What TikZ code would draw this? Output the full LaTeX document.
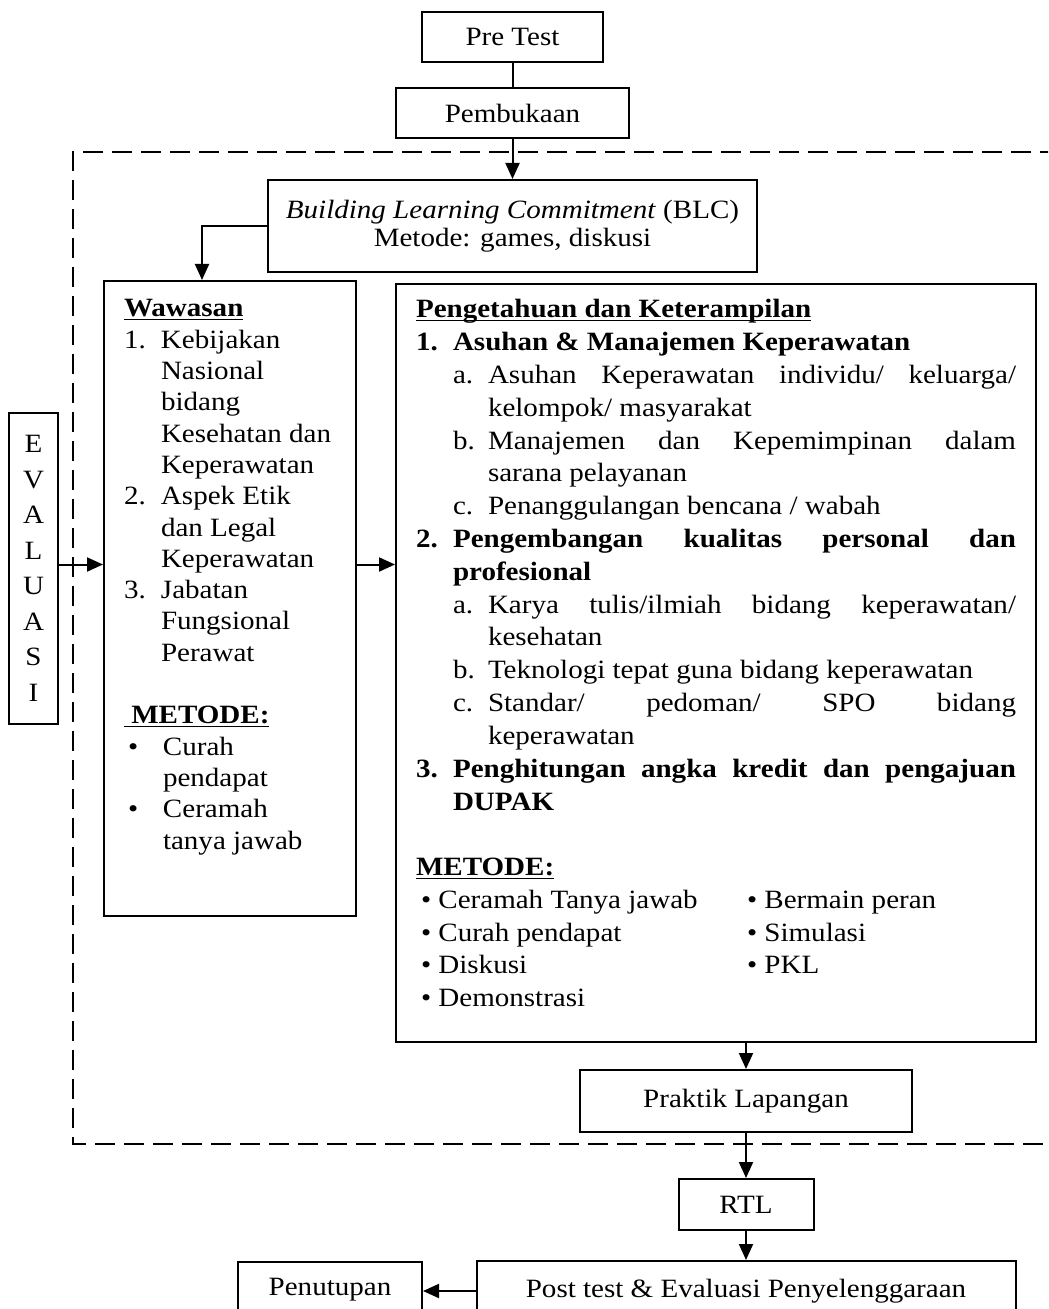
\documentclass[tikz,border=0pt]{standalone}
\usepackage{fontspec}
\setmainfont[FakeStretch=1.1]{Liberation Serif}
\usetikzlibrary{arrows.meta, positioning}

\newcommand{\garisbawah}[1]{\underline{\smash{#1}}}
\newcommand{\butir}[2]{\par\hangindent=18.5pt\hangafter=1\noindent\makebox[18.5pt][l]{#1}#2\par}
\newcommand{\subbutir}[2]{\par\hangindent=36pt\hangafter=1\noindent\hspace*{18.5pt}\makebox[17.5pt][l]{#1}#2\par}
\newcommand{\poin}[1]{\par\hangindent=19.5pt\hangafter=1\noindent\makebox[19.5pt][l]{\hspace{2pt}\textbullet}#1\par}
\newcommand{\duakolom}[2]{\par\noindent\makebox[165.5pt][l]{\hspace{2.5pt}\textbullet\ #1}\textbullet\ #2\par}

\begin{document}
\begin{tikzpicture}[x=0.5pt, y=-0.5pt, font=\fontsize{13.2}{15.65}\selectfont,
        kotak/.style={draw, line width=1pt, inner sep=0pt},
        panah/.style={line width=1pt, -{Triangle[length=8pt, width=7pt]}},
        putus/.style={line width=1.4pt, dash pattern=on 10pt off 4.5pt}]
    \useasboundingbox (0,0) rectangle (1048,1309);
    \clip (0,0) rectangle (1048,1309);

    % pembukaan
    \node[kotak, minimum width=90.5pt, minimum height=25pt] (pretest) at (512.5,37) {Pre Test};
    \node[kotak, below=12pt of pretest, minimum width=116.5pt, minimum height=25pt] (pembukaan) {Pembukaan};
    \node[kotak, below=20pt of pembukaan, minimum width=244.5pt, minimum height=46pt, align=center,
        font=\fontsize{13.2}{14}\selectfont] (blc) {\textit{Building Learning Commitment} (BLC)\\Metode: games, diskusi};

    % materi
    \node[kotak, anchor=north west, inner xsep=10pt] (wawasan) at (103,280) {%
        \begin{minipage}[t][317.5pt][t]{106pt}
        \fontsize{13.2}{15.65}\selectfont\raggedright
        \noindent\rule{0pt}{18pt}\garisbawah{\textbf{Wawasan}}\par
        \butir{1.}{Kebijakan\newline Nasional\newline bidang\newline Kesehatan dan\newline Keperawatan}
        \butir{2.}{Aspek Etik\newline dan Legal\newline Keperawatan}
        \butir{3.}{Jabatan\newline Fungsional\newline Perawat}
        \vspace{\baselineskip}
        \noindent\garisbawah{\textbf{\ METODE:}}\par
        \poin{Curah\newline pendapat}
        \poin{Ceramah\newline tanya jawab}
        \end{minipage}};
    \node[kotak, anchor=north west, inner xsep=10pt] (pengetahuan) at (395,283) {%
        \begin{minipage}[t][379pt][t]{300pt}
        \fontsize{13.2}{16.4}\selectfont
        \noindent\rule{0pt}{17pt}\garisbawah{\textbf{Pengetahuan dan Keterampilan}}\par
        \butir{\textbf{1.}}{\textbf{Asuhan \& Manajemen Keperawatan}}
        \subbutir{a.}{Asuhan Keperawatan individu/ keluarga/\linebreak kelompok/ masyarakat}
        \subbutir{b.}{Manajemen dan Kepemimpinan dalam\linebreak sarana pelayanan}
        \subbutir{c.}{Penanggulangan bencana / wabah}
        \butir{\textbf{2.}}{\textbf{Pengembangan kualitas personal dan\linebreak profesional}}
        \subbutir{a.}{Karya tulis/ilmiah bidang keperawatan/\linebreak kesehatan}
        \subbutir{b.}{Teknologi tepat guna bidang keperawatan}
        \subbutir{c.}{Standar/ pedoman/ SPO bidang\linebreak keperawatan}
        \butir{\textbf{3.}}{\textbf{Penghitungan angka kredit dan pengajuan\linebreak DUPAK}}
        \vspace{\baselineskip}
        \noindent\garisbawah{\textbf{METODE:}}\par
        \duakolom{Ceramah Tanya jawab}{Bermain peran}
        \duakolom{Curah pendapat}{Simulasi}
        \duakolom{Diskusi}{PKL}
        \noindent\hspace{2.5pt}\textbullet\ Demonstrasi\par
        \end{minipage}};
    \node[kotak, anchor=north west, minimum width=24.5pt, minimum height=155.5pt, align=center,
        font=\fontsize{13.2}{17.75}\selectfont] (evaluasi) at (8,412) {E\\V\\A\\L\\U\\A\\S\\I};

    % penutup
    \node[kotak, minimum width=166pt, minimum height=31pt] (praktik) at (746,1101) {Praktik Lapangan};
    \node[kotak, below=22.5pt of praktik, minimum width=67.5pt, minimum height=25.5pt] (rtl) {RTL};
    \node[kotak, below=14.5pt of rtl, minimum width=269.5pt, minimum height=30pt] (posttest) {Post test \& Evaluasi Penyelenggaraan};
    \node[kotak, anchor=north, minimum width=92pt, minimum height=28pt] (penutupan) at (330,1261) {Penutupan};

    % bingkai putus-putus
    \draw[putus] (1060,152) -- (73,152) -- (73,1144) -- (1060,1144);

    \draw[line width=1pt] (pretest) -- (pembukaan);
    \draw[panah] (pembukaan) -- (blc);
    \draw[panah] (blc.west) -| ([xshift=-14pt]wawasan.north);
    \coordinate (cabang) at ([yshift=2pt]evaluasi.east);
    \draw[panah] (cabang) -- (cabang -| wawasan.west);
    \draw[panah] (cabang -| wawasan.east) -- (cabang -| pengetahuan.west);
    \draw[panah] (praktik.north |- pengetahuan.south) -- (praktik);
    \draw[panah] (praktik) -- (rtl);
    \draw[panah] (rtl) -- (posttest);
    \draw[panah] (posttest.west) -- (posttest.west -| penutupan.east);
\end{tikzpicture}
\end{document}
